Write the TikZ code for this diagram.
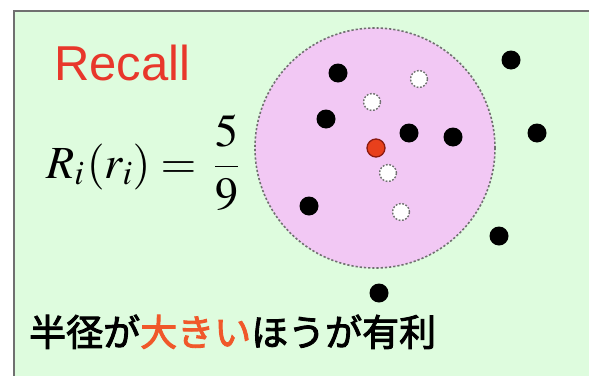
\documentclass[tikz,border=0pt]{standalone}
\usepackage{mathptmx}
\usepackage{fontspec}
\setsansfont{Liberation Sans}
\newfontfamily\jpfont[FakeBold=2.5]{Noto Sans CJK JP}
\usepackage{xcolor}
\usetikzlibrary{positioning}
\definecolor{PanelGreen}{HTML}{DEFCDE}
\definecolor{PanelEdge}{HTML}{707070}
\definecolor{RangePink}{HTML}{F2C8F4}
\definecolor{DashGray}{HTML}{707070}
\definecolor{RecallRed}{HTML}{E8372B}
\definecolor{QueryRed}{HTML}{E8401C}
\definecolor{QueryEdge}{HTML}{8B1A10}
\definecolor{BigOrange}{HTML}{F0582A}

\tikzset{
  hitdot/.style={circle,fill=black,inner sep=0pt,minimum size=19pt},
  missdot/.style={circle,fill=white,draw=DashGray,dash pattern=on 1.8pt off 1.6pt,line width=1.4pt,inner sep=0pt,minimum size=17pt},
  querydot/.style={circle,fill=QueryRed,draw=QueryEdge,line width=1.3pt,inner sep=0pt,minimum size=18pt}
}

\begin{document}
\begin{tikzpicture}[x=1pt,y=-1pt]
  \useasboundingbox (0,0) rectangle (589,375);
  % panel
  \fill[PanelGreen] (14,11) rectangle (600,390);
  \draw[PanelEdge,line width=2pt] (14,390) -- (14,11) -- (600,11);

  % search range
  \node[circle,minimum size=240pt,inner sep=0pt,fill=RangePink,draw=DashGray,line width=1.6pt,dash pattern=on 2.2pt off 2pt] (range) at (375,148) {};

  % relevant items
  \foreach \n/\x/\y in {a/338/73, b/326/119, c/409/133, d/453/137, e/309/206, f/511/60, g/537/133, h/499/236, k/379/293} {
    \node[hitdot] (\n) at (\x,\y) {};
  }
  % other items
  \foreach \n/\x/\y in {p/419/79, q/372/102, s/388/173, t/401/212} {
    \node[missdot] (\n) at (\x,\y) {};
  }
  \node[querydot] (query) at (376,148) {};

  % texts
  \node[anchor=base west,inner sep=0pt,text=RecallRed,font=\sffamily\fontsize{49}{52}\selectfont] (title) at (54,80) {Recall};
  \node[anchor=base west,inner sep=0pt,font=\fontsize{46}{50}\selectfont] (formula) at (46,178) {$\displaystyle R_i\mkern1mu(r_i)=\mkern3mu\frac{5}{9}$};
  \node[anchor=base west,inner sep=0pt,font=\jpfont\fontsize{37}{40}\selectfont] (note) at (29,346) {半径が\textcolor{BigOrange}{大きい}ほうが有利};
\end{tikzpicture}
\end{document}
